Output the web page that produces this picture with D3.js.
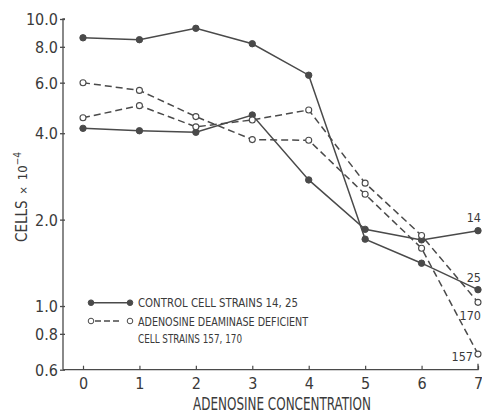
<!DOCTYPE html>
<html>
<head>
<meta charset="utf-8">
<script src="https://cdn.jsdelivr.net/npm/d3@7"></script>
<style>
  html, body { margin: 0; padding: 0; background: #fff; }
  svg { display: block; }
  text { font-family: "Liberation Sans Narrow", "DejaVu Sans Condensed", sans-serif; fill: #3a3a3a; }
</style>
</head>
<body>
<svg id="chart" width="482" height="413"></svg>
<script>
// Adenosine concentration (x) against cell count (log scale)
const concentrations = [0, 1, 2, 3, 4, 5, 6, 7];
const control14 = [4.16, 4.08, 4.03, 4.63, 2.75, 1.85, 1.70, 1.83];
const control25 = [8.6, 8.47, 9.28, 8.2, 6.37, 1.71, 1.41, 1.14];
const deficient170 = [4.53, 4.99, 4.21, 4.45, 4.82, 2.68, 1.76, 1.03];
const deficient157 = [6.0, 5.64, 4.57, 3.80, 3.78, 2.45, 1.59, 0.68];
const yTickValues = [0.6, 0.8, 1.0, 2.0, 4.0, 6.0, 8.0, 10.0];
const xTickValues = [0, 1, 2, 3, 4, 5, 6, 7];

const series = [
  { name: "14", values: control14, kind: "control" },
  { name: "25", values: control25, kind: "control" },
  { name: "170", values: deficient170, kind: "deficient" },
  { name: "157", values: deficient157, kind: "deficient" }
];

const ink = "#4a4a4a";
const svg = d3.select("#chart");

const x = d3.scaleLinear().domain([0, 7]).range([83, 478]);
const y = d3.scaleLog().domain([0.6, 10]).range([369.7, 19]);
const axisX = 63, axisY = 369.7;

// condensed lettering: fit a text element to a given width
function label(sel, str, size, width) {
  const t = sel.append("text").attr("font-size", size).text(str);
  if (width) t.attr("textLength", width).attr("lengthAdjust", "spacingAndGlyphs");
  return t;
}

// y axis
const yAxis = svg.append("g")
  .attr("transform", `translate(${axisX},0)`)
  .call(d3.axisLeft(y).tickValues(yTickValues).tickSize(3).tickFormat(d3.format(".1f")));
yAxis.select(".domain").attr("d", `M2,${y(10)}H0V${axisY}`);
yAxis.selectAll("path, line").attr("stroke", ink).attr("stroke-width", 1.3);
yAxis.selectAll(".tick line").attr("x2", -3).attr("x1", 2);
yAxis.selectAll("text").attr("font-size", 16).attr("x", -5).attr("dy", "0.36em")
  .attr("fill", "#3a3a3a").attr("font-family", null);

// x axis
const xAxis = svg.append("g")
  .attr("transform", `translate(0,${axisY})`)
  .call(d3.axisBottom(x).tickValues(xTickValues).tickSize(0).tickFormat(d3.format("d")));
xAxis.select(".domain").attr("d", `M${axisX},0H${x(7)}V-6`);
xAxis.selectAll("path").attr("stroke", ink).attr("stroke-width", 1.3);
xAxis.selectAll(".tick line").attr("y2", -4).attr("stroke", ink).attr("stroke-width", 1.2);
xAxis.selectAll("text").attr("font-size", 16).attr("y", 8).attr("dy", "0.71em")
  .attr("fill", "#3a3a3a").attr("font-family", null);

// data lines
const line = d3.line().x((d, i) => x(concentrations[i])).y(d => y(d));
series.forEach(s => {
  svg.append("path")
    .datum(s.values)
    .attr("d", line)
    .attr("fill", "none")
    .attr("stroke", ink)
    .attr("stroke-width", 1.5)
    .attr("stroke-dasharray", s.kind === "deficient" ? "7,4" : null);
  svg.append("g").selectAll("circle")
    .data(s.values)
    .join("circle")
    .attr("cx", (d, i) => x(concentrations[i]))
    .attr("cy", d => y(d))
    .attr("r", s.kind === "control" ? 3.2 : 3)
    .attr("fill", s.kind === "control" ? ink : "#fff")
    .attr("stroke", ink)
    .attr("stroke-width", s.kind === "control" ? 1 : 1.1);
});

// strain labels at the line ends
const endLabels = [
  { name: "14", x: 481, dy: -9, anchor: "end" },
  { name: "25", x: 481, dy: -8, anchor: "end" },
  { name: "170", x: 481, dy: 18, anchor: "end" },
  { name: "157", x: 473, dy: 7, anchor: "end" }
];
endLabels.forEach(l => {
  const s = series.find(d => d.name === l.name);
  const v = s.values[s.values.length - 1];
  label(svg, l.name, 12.5)
    .attr("x", l.x)
    .attr("y", y(v) + l.dy)
    .attr("text-anchor", l.anchor);
});

// legend
const legend = svg.append("g");
const legendRows = [
  { kind: "control", y: 302.7, lines: ["CONTROL CELL STRAINS 14, 25"], widths: [160] },
  { kind: "deficient", y: 321, lines: ["ADENOSINE DEAMINASE DEFICIENT", "CELL STRAINS 157, 170"], widths: [170, 104] }
];
legendRows.forEach(r => {
  legend.append("line")
    .attr("x1", 91).attr("x2", 130).attr("y1", r.y).attr("y2", r.y)
    .attr("stroke", ink).attr("stroke-width", 1.4)
    .attr("stroke-dasharray", r.kind === "deficient" ? "0,4,6,3,6,3,6,4,0,10" : null);
  [91, 130].forEach(cx => legend.append("circle")
    .attr("cx", cx).attr("cy", r.y).attr("r", 2.8)
    .attr("fill", r.kind === "control" ? ink : "#fff")
    .attr("stroke", ink).attr("stroke-width", 1));
  r.lines.forEach((txt, i) => {
    label(legend, txt, 12.5, r.widths[i])
      .attr("x", 138).attr("y", r.y + 4.5 + i * 17.5);
  });
});

// axis titles
label(svg, "ADENOSINE CONCENTRATION", 18, 178)
  .attr("x", 193).attr("y", 410);

const yTitle = svg.append("text")
  .attr("transform", "translate(27,197) rotate(-90)")
  .attr("text-anchor", "middle")
  .attr("font-size", 15);
yTitle.append("tspan").text("CELLS");
yTitle.append("tspan").attr("font-size", 11).attr("dx", 6).text("×");
yTitle.append("tspan").attr("font-size", 13).attr("dx", 6).text("10");
yTitle.append("tspan").attr("font-size", 10).attr("dy", -6).text("−4");
</script>
</body>
</html>
